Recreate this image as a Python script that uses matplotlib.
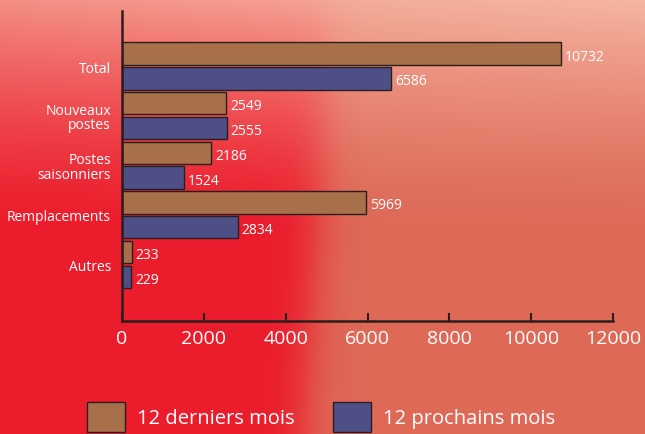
import numpy as np
import matplotlib.pyplot as plt

categories = ["Total", "Nouveaux\npostes", "Postes\nsaisonniers", "Remplacements", "Autres"]
derniers = [10732, 2549, 2186, 5969, 233]
prochains = [6586, 2555, 1524, 2834, 229]
series_names = ["12 derniers mois", "12 prochains mois"]
xticks = [0, 2000, 4000, 6000, 8000, 10000, 12000]

orange = "#a8704a"
blue = "#4f4f88"
edge = "#2a1e1e"

fig = plt.figure(figsize=(6.45, 4.35), dpi=100)

# red photo-like background
h, w = 435, 645
yy, xx = np.mgrid[0:h, 0:w].astype(float)
red = np.array([236, 28, 44]) / 255
salmon = np.array([222, 106, 88]) / 255
light = np.array([246, 182, 162]) / 255
edge_x = 330 - 0.06 * yy
ws = 1 / (1 + np.exp(-(xx - edge_x) / 12))
wl = np.clip(1 - yy / 230, 0, 1) ** 1.4
wl = wl * (0.75 + 0.25 * np.clip(xx / 645, 0, 1))
img = red * (1 - ws[..., None]) + salmon * ws[..., None]
img = img * (1 - wl[..., None]) + light * wl[..., None]
bg = fig.add_axes([0, 0, 1, 1])
bg.imshow(img, aspect="auto", extent=(0, 1, 0, 1))
bg.axis("off")

ax = fig.add_axes([122 / 645, 1 - 322 / 435, (613 - 122) / 645, (322 - 12) / 435])
ax.patch.set_alpha(0)

y = np.arange(len(categories))
ax.barh(y - 0.25, derniers, height=0.45, color=orange, edgecolor=edge, linewidth=1, label=series_names[0])
ax.barh(y + 0.25, prochains, height=0.45, color=blue, edgecolor=edge, linewidth=1, label=series_names[1])

for yi, v in zip(y, derniers):
    ax.text(v + 90, yi - 0.2, str(v), color="white", fontsize=10, va="center", family="Open Sans")
for yi, v in zip(y, prochains):
    ax.text(v + 90, yi + 0.3, str(v), color="white", fontsize=10, va="center", family="Open Sans")

ax.set_xlim(0, 12000)
ax.set_ylim(5.14, -1.11)
ax.set_xticks(xticks)
ax.set_xticklabels([str(t) for t in xticks], color="white", fontsize=14, family="Open Sans")
ax.set_yticks(y)
ax.set_yticklabels(categories, color="white", fontsize=10, family="Open Sans", linespacing=0.95)
for lbl in ax.get_yticklabels():
    lbl.set_y(lbl.get_position()[1])
ax.tick_params(axis="y", length=0, pad=8)
ax.tick_params(axis="x", direction="in", length=6, width=1.5, color="#2a1e1e", pad=6)
for s in ["top", "right"]:
    ax.spines[s].set_visible(False)
for s in ["left", "bottom"]:
    ax.spines[s].set_color("#2a1e1e")
    ax.spines[s].set_linewidth(1.8)

leg = fig.legend(loc="upper left", bbox_to_anchor=(69 / 645, 1 - 385 / 435), ncol=2,
                 frameon=False, handlelength=1.89, handleheight=1.9,
                 columnspacing=1.9, handletextpad=0.6, prop={"family": "Open Sans", "size": 14.5})
for t in leg.get_texts():
    t.set_color("white")

fig.savefig("out.png", dpi=100)
